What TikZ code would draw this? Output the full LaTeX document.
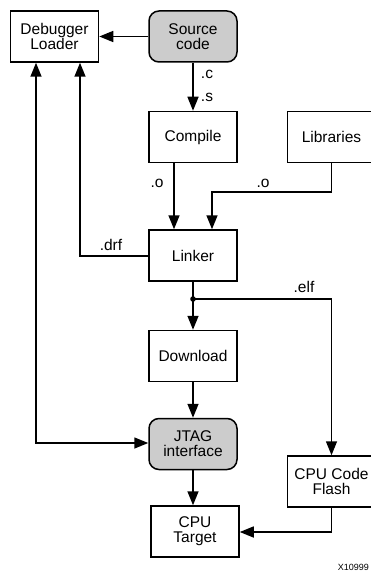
\documentclass[tikz,border=0pt]{standalone}
\usepackage{fontspec}
\setmainfont{Liberation Sans}
\usetikzlibrary{arrows.meta,calc}
\definecolor{boxgray}{RGB}{204,204,204}
\begin{document}
\begin{tikzpicture}[x=1pt,y=-1pt,
  box/.style={draw,line width=1.5pt,minimum width=88pt,minimum height=51pt,inner sep=0pt,align=center,font=\fontsize{15.5}{15}\selectfont},
  rbox/.style={box,fill=boxgray,rounded corners=10pt},
  lbl/.style={font=\fontsize{15.5}{15}\selectfont,inner sep=0pt},
  conn/.style={line width=1.5pt,-{Triangle[length=14pt,width=11pt]}},
  plain/.style={line width=1.5pt}]
\useasboundingbox (0,0) rectangle (371,572);
\node[box] (dbg) at (54.5,36.5) {Debugger\\Loader};
\node[rbox] (src) at (193,36.5) {Source\\code};
\node[box] (cmp) at (193,137) {Compile};
\node[box] (lib) at (331.5,137) {Libraries};
\node[box] (lnk) at (193,255.5) {Linker};
\node[box] (dl) at (193,356) {Download};
\node[rbox] (jtag) at (193,444) {JTAG\\interface};
\node[box] (tgt) at (195,531.5) {CPU\\Target};
\node[box] (fl) at (331.5,481.5) {CPU Code\\Flash};
\coordinate (dot) at (193,299);
\fill (dot) circle (2.8pt);
% connectors
\draw[conn] (src.west) -- (dbg.east);
\draw[conn] (src.south) -- (cmp.north);
\draw[conn] (cmp.south -| 174,0) -- (lnk.north -| 174,0);
\draw[conn] (lib.south) |- (212,192) -- (lnk.north -| 212,0);
\draw[conn] (lnk.west |- 0,256) -| (dbg.south -| 80,0);
\draw[line width=1.5pt,{Triangle[length=14pt,width=11pt]}-{Triangle[length=14pt,width=11pt]}] (dbg.south -| 36,0) |- (jtag.west |- 0,443);
\draw[plain] (lnk.south) -- (dot);
\draw[conn] (dot) -- (dl.north);
\draw[conn] (dot) -| (fl.north);
\draw[conn] (dl.south) -- (jtag.north);
\draw[conn] (jtag.south) -- (tgt.north -| jtag.south);
\draw[conn] (fl.south) |- (tgt.east |- 0,532);
% labels
\node[lbl] (lc) at (207,74) {.c};
\node[lbl] (ls) at (207,97) {.s};
\node[lbl] (lo1) at (157,183) {.o};
\node[lbl] (lo2) at (263,183) {.o};
\node[lbl] (ldrf) at (111,245) {.drf};
\node[lbl] (lelf) at (304,287) {.elf};
\node[anchor=east,inner sep=0pt,font=\fontsize{9}{10}\selectfont] (id) at (369,567) {X10999};
\end{tikzpicture}
\end{document}
